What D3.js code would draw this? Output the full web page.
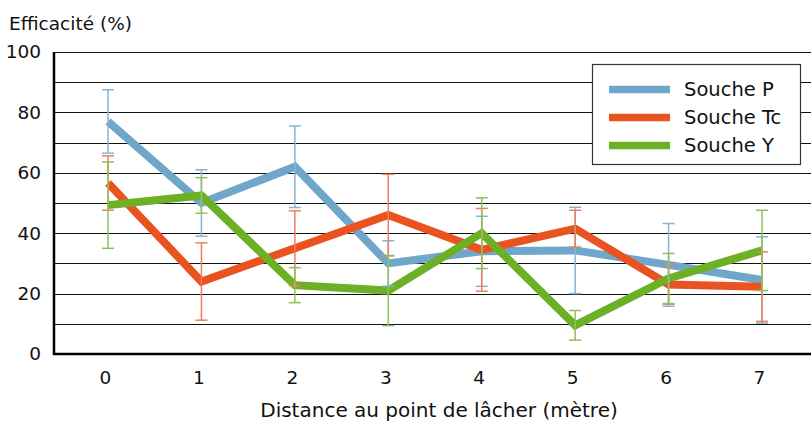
<!DOCTYPE html>
<html>
<head>
<meta charset="utf-8">
<script src="https://cdn.jsdelivr.net/npm/d3@7"></script>
<style>
  body { margin: 0; background: #fff; }
  svg text { font-family: "DejaVu Sans", sans-serif; fill: #111; }
</style>
</head>
<body>
<div id="chart"></div>
<script>
// distances (m)
var distances = [0, 1, 2, 3, 4, 5, 6, 7];
var yTicks = [0, 20, 40, 60, 80, 100];
var seriesNames = ["Souche P", "Souche Tc", "Souche Y"];

// mean efficacity (%)
var soucheP  = [77, 50, 62, 30, 34, 34.3, 29.5, 24.5];
var soucheTc = [56.6, 24, 35, 46, 34.5, 41.5, 23, 22.3];
var soucheY  = [49.3, 52.5, 22.8, 21, 40, 9.5, 25, 34.3];

// error bar half-width
var errP  = [10.5, 11, 13.5, 7.5, 11.6, 14.3, 13.7, 14.3];
var errTc = [9, 12.8, 12.4, 13.5, 13.7, 6.1, 6.5, 11.5];
var errY  = [14.3, 5.9, 5.8, 11.6, 11.7, 4.9, 8.3, 13.3];

var colors = ["#71a6cb", "#e9531f", "#6cb025"];
var errColors = ["#86b4d5", "#ef7f5c", "#8dc25a"];

var width = 811, height = 423;
var plotLeft = 54, plotTop = 52, plotBottom = 354;

var svg = d3.select("#chart").append("svg")
    .attr("width", width)
    .attr("height", height);

var x = d3.scalePoint()
    .domain(distances)
    .range([108, 762]);

var y = d3.scaleLinear()
    .domain([0, 100])
    .range([plotBottom, plotTop]);

// grid lines every 10
svg.append("g")
    .selectAll("line")
    .data(d3.range(10, 101, 10))
    .enter().append("line")
    .attr("x1", plotLeft)
    .attr("x2", width)
    .attr("y1", function(d) { return Math.round(y(d)) + 0.5; })
    .attr("y2", function(d) { return Math.round(y(d)) + 0.5; })
    .attr("stroke", "#111")
    .attr("stroke-width", 1.2);

// y axis labels
var yAxis = d3.axisLeft(y).tickValues(yTicks).tickSize(0).tickPadding(13);
var gy = svg.append("g")
    .attr("transform", "translate(" + plotLeft + ",0)")
    .call(yAxis);
gy.select(".domain").remove();
gy.selectAll("text").attr("font-size", 18.5).attr("font-family", "DejaVu Sans").attr("fill", "#111");

// x axis labels
var xAxis = d3.axisBottom(x).tickSize(0).tickPadding(17);
var gx = svg.append("g")
    .attr("transform", "translate(-3," + plotBottom + ")")
    .call(xAxis);
gx.select(".domain").remove();
gx.selectAll("text").attr("font-size", 18.5).attr("font-family", "DejaVu Sans").attr("fill", "#111");

// spines
svg.append("line")
    .attr("x1", plotLeft).attr("x2", plotLeft)
    .attr("y1", plotTop).attr("y2", plotBottom + 1)
    .attr("stroke", "#000").attr("stroke-width", 2.5);
svg.append("line")
    .attr("x1", plotLeft - 1).attr("x2", width)
    .attr("y1", plotBottom).attr("y2", plotBottom)
    .attr("stroke", "#000").attr("stroke-width", 2.5);

// lines
var data = [soucheP, soucheTc, soucheY];
var errs = [errP, errTc, errY];

var line = d3.line()
    .x(function(d, i) { return x(distances[i]); })
    .y(function(d) { return y(d); });

data.forEach(function(vals, k) {
    svg.append("path")
        .attr("d", line(vals))
        .attr("fill", "none")
        .attr("stroke", colors[k])
        .attr("stroke-width", 8)
        .attr("stroke-linejoin", "miter");
});

// error bars
data.forEach(function(vals, k) {
    var g = svg.append("g")
        .attr("stroke", errColors[k])
        .attr("stroke-width", 1.5);
    vals.forEach(function(v, i) {
        var cx = x(distances[i]);
        var hi = y(v + errs[k][i]), lo = y(v - errs[k][i]);
        g.append("line").attr("x1", cx).attr("x2", cx).attr("y1", hi).attr("y2", lo);
        g.append("line").attr("x1", cx - 6).attr("x2", cx + 6).attr("y1", hi).attr("y2", hi);
        g.append("line").attr("x1", cx - 6).attr("x2", cx + 6).attr("y1", lo).attr("y2", lo);
    });
});

// legend
var legend = svg.append("g");
legend.append("rect")
    .attr("x", 592.5).attr("y", 64.5)
    .attr("width", 208).attr("height", 100)
    .attr("fill", "#fff")
    .attr("stroke", "#333")
    .attr("stroke-width", 1.2);
seriesNames.forEach(function(name, k) {
    var ly = 89.5 + k * 28;
    legend.append("line")
        .attr("x1", 609).attr("x2", 670)
        .attr("y1", ly).attr("y2", ly)
        .attr("stroke", colors[k])
        .attr("stroke-width", 7.5);
    legend.append("text")
        .attr("x", 684).attr("y", ly)
        .attr("dy", "0.35em")
        .attr("font-size", 19.5)
        .text(name);
});

// titles
svg.append("text")
    .attr("x", 9).attr("y", 30)
    .attr("font-size", 18.5)
    .text("Efficacité (%)");

svg.append("text")
    .attr("x", 439).attr("y", 417)
    .attr("text-anchor", "middle")
    .attr("font-size", 20)
    .text("Distance au point de lâcher (mètre)");
</script>
</body>
</html>
